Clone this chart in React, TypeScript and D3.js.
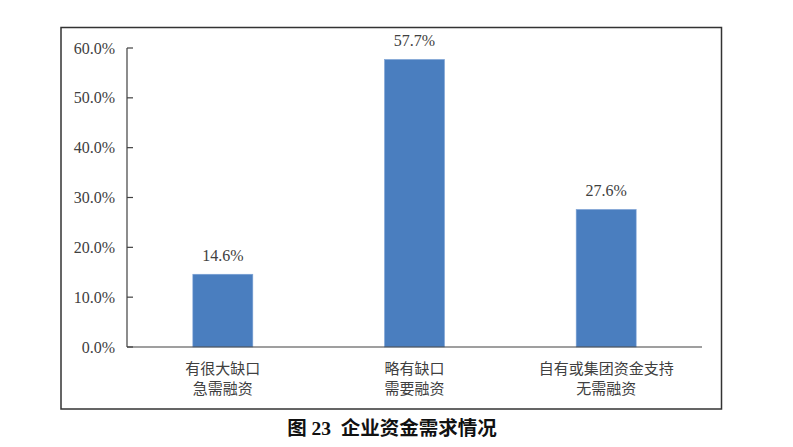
import React from "react";
import * as d3 from "d3";

const categories: string[][] = [
  ["有很大缺口", "急需融资"],
  ["略有缺口", "需要融资"],
  ["自有或集团资金支持", "无需融资"],
];
const values: number[] = [14.6, 57.7, 27.6];
const yTicks: number[] = [0, 10, 20, 30, 40, 50, 60];
const title = "图 23  企业资金需求情况";

export default function App() {
  const W = 793, H = 447;
  const left = 127, right = 702, top = 48, bottom = 347;
  const x = d3.scaleBand<number>().domain(d3.range(values.length)).range([left, right]).paddingInner(0.687).paddingOuter(0.3435);
  const y = d3.scaleLinear().domain([0, 60]).range([bottom, top]);
  const serif = "'Liberation Serif', 'Times New Roman', serif";
  const cjk = "'Noto Sans CJK SC', sans-serif";
  return (
    <svg width={W} height={H} style={{ position: "absolute", left: 0, top: 0, background: "#fff" }}>
      <rect x={61} y={27.5} width={660.5} height={381.5} fill="none" stroke="#333" strokeWidth={1.5} />
      {values.map((v, i) => {
        const cx = (x(i) as number) + x.bandwidth() / 2;
        return (
          <g key={i}>
            <rect x={x(i)} y={y(v)} width={x.bandwidth()} height={bottom - y(v)} fill="#4a7ebf" stroke="#7ea3d6" strokeWidth={0.6} />
            <text x={cx} y={y(v) - 13} textAnchor="middle" fontFamily={serif} fontSize={16} fill="#404040">
              {v.toFixed(1)}%
            </text>
            <text x={cx} y={374} textAnchor="middle" fontFamily={cjk} fontSize={15} fill="#404040">
              {categories[i].map((line, j) => (
                <tspan key={j} x={cx} dy={j === 0 ? 0 : 19.5}>{line}</tspan>
              ))}
            </text>
          </g>
        );
      })}
      <line x1={left} x2={left} y1={top} y2={bottom} stroke="#404040" strokeWidth={1.2} />
      <line x1={left} x2={right} y1={bottom} y2={bottom} stroke="#404040" strokeWidth={1.2} />
      {yTicks.map((t) => (
        <g key={t}>
          <line x1={left} x2={left + 6} y1={y(t)} y2={y(t)} stroke="#404040" strokeWidth={1.2} />
          <text x={115} y={y(t) + 5.5} textAnchor="end" fontFamily={serif} fontSize={16} fill="#404040">
            {t.toFixed(1)}%
          </text>
        </g>
      ))}
      <text x={392} y={435} textAnchor="middle" fontSize={19.5} fontWeight="bold" fill="#111" style={{ whiteSpace: "pre" }} fontFamily={`${serif.split(",")[0]}, ${cjk}`}>
        {title}
      </text>
    </svg>
  );
}
